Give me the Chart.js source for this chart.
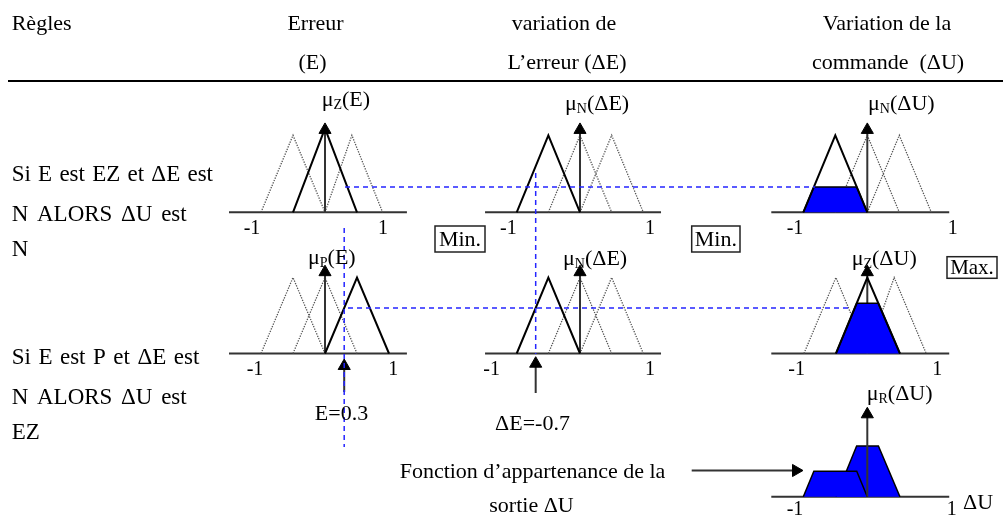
<!DOCTYPE html>
<html><head><meta charset="utf-8">
<script src="https://cdn.jsdelivr.net/npm/chart.js@4/dist/chart.umd.min.js"></script>
<style>html,body{margin:0;padding:0;background:#fff;overflow:hidden}#wrap{position:relative;width:1003px;height:518px}</style>
</head><body><div id="wrap"><canvas id="c" width="1003" height="518"></canvas></div>
<script>
// ================= DATA =================
const inputE = 0.3;
const inputDE = -0.7;
// fuzzy sets [left, peak, right, peakHeight]  order: N, Z, P
const setsE1  = [[-1,-0.5,0,1],[-0.5,0,0.5,1.09],[0,0.42,0.9,1]];
const setsE2  = [[-1,-0.5,0,1],[-0.5,0,0.5,1],[0,0.5,1,1]];
const setsDE  = [[-1,-0.5,0,1],[-0.5,0,0.5,1],[0,0.5,1,1]];
const setsDU1 = [[-1,-0.5,0,1],[-0.5,0,0.5,1],[0,0.5,1,1]];
const setsDU2 = [[-0.99,-0.49,0,1],[-0.49,0,0.51,1],[0,0.42,0.92,1]];
const activeE  = [1, 2];   // rule 1: Z, rule 2: P
const activeDE = [0, 0];   // N, N
const activeDU = [0, 1];   // N, Z
const firingLevels = [0.33, 0.6];
const clipLevels   = [0.33, 0.66];
const axisRange = [-1.5, 1.28];
const muArrowTop = 1.07;

// ================= LAYOUT =================
const W = 1003, H = 518;
const SERIF = '"Liberation Serif","Times New Roman",serif';
const colLayout = { xE:{zero:325,unit:64}, xDE:{zero:580,unit:63.3}, xDU:{zero:867.3,unit:64} };
const rowLayout = { yR1:{base:212.3,unit:77}, yR2:{base:353.5,unit:76}, yR3:{base:496.7,unit:77} };
const BLUE = '#2525ff';

const datasets = [];
function addLine(points, xID, yID, style, order) {
  datasets.push(Object.assign({
    data: points, xAxisID: xID, yAxisID: yID, showLine: true,
    pointRadius: 0, pointHoverRadius: 0, tension: 0, fill: false,
    borderCapStyle: 'butt', borderJoinStyle: 'miter', order: order
  }, style));
}
const S_AXIS   = {borderColor:'#333', borderWidth:2};
const S_DOT    = {borderColor:'#555', borderWidth:1.3, borderDash:[1.3,1.3]};
const S_SOLID  = {borderColor:'#000', borderWidth:2};
const S_TRAP   = {borderColor:'#000', borderWidth:1.5, backgroundColor:'#0000ff', fill:{value:0}};
const S_DASH   = {borderColor:BLUE, borderWidth:1.5, borderDash:[5,4]};
function arrowStyle(rot){ return {borderColor:'#333', borderWidth:2,
  pointRadius:[0,7], pointStyle:'triangle', pointRotation:rot||0,
  pointBackgroundColor:'#000', pointBorderColor:'#000', pointBorderWidth:1}; }

function triPts(s){ return [{x:s[0],y:0},{x:s[1],y:s[3]},{x:s[2],y:0}]; }
function trapPts(s,h){ return [{x:s[0],y:0},{x:s[0]+(s[1]-s[0])*h,y:h},{x:s[2]-(s[2]-s[1])*h,y:h},{x:s[2],y:0}]; }

function panel(xID, yID, sets, active, clip, arrowOrder) {
  addLine([{x:axisRange[0],y:0},{x:axisRange[1],y:0}], xID, yID, S_AXIS, 20);
  sets.forEach((s,i)=>{ if(i!==active) addLine(triPts(s), xID, yID, S_DOT, 18); });
  addLine([{x:0,y:0},{x:0,y:muArrowTop}], xID, yID, arrowStyle(0), arrowOrder);
  if (clip != null) addLine(trapPts(sets[active], clip), xID, yID, S_TRAP, 15);
  addLine(triPts(sets[active]), xID, yID, S_SOLID, 12);
}
// rule 1
panel('xE','yR1', setsE1, activeE[0], null, 16);
panel('xDE','yR1', setsDE, activeDE[0], null, 16);
panel('xDU','yR1', setsDU1, activeDU[0], clipLevels[0], 16);
// rule 2
panel('xE','yR2', setsE2, activeE[1], null, 16);
panel('xDE','yR2', setsDE, activeDE[1], null, 16);
panel('xDU','yR2', setsDU2, activeDU[1], clipLevels[1], 16);
// aggregated output
addLine([{x:axisRange[0],y:0},{x:axisRange[1],y:0}], 'xDU','yR3', S_AXIS, 20);
addLine(trapPts(setsDU2[activeDU[1]], clipLevels[1]), 'xDU','yR3', S_TRAP, 15);
addLine(trapPts(setsDU1[activeDU[0]], clipLevels[0]), 'xDU','yR3', S_TRAP, 14);
addLine([{x:0,y:0},{x:0,y:muArrowTop}], 'xDU','yR3', arrowStyle(0), 10);

// connectors (blue dashed)
addLine([{x:345,y:firingLevels[0]},{x:815,y:firingLevels[0]}], 'xPage','yR1', S_DASH, 1);
addLine([{x:348,y:firingLevels[1]},{x:852,y:firingLevels[1]}], 'xPage','yR2', S_DASH, 1);
addLine([{x:inputE,y:228},{x:inputE,y:447}], 'xE','yPage', S_DASH, 1);
addLine([{x:inputDE,y:173},{x:inputDE,y:354}], 'xDE','yPage', S_DASH, 1);
// input arrows & output arrow
addLine([{x:inputE,y:392},{x:inputE,y:366}], 'xE','yPage', arrowStyle(0), 2);
addLine([{x:inputDE,y:393},{x:inputDE,y:363.7}], 'xDE','yPage', arrowStyle(0), 2);
addLine([{x:691.7,y:470.5},{x:796,y:470.5}], 'xPage','yPage', arrowStyle(90), 2);
// header rule
addLine([{x:8,y:81},{x:1003,y:81}], 'xPage','yPage', {borderColor:'#000', borderWidth:2}, 2);

// ================= TEXT =================
// centred / left texts: [text, x, baseline, align]
const plainTexts = [
  ['Règles', 11.7, 29.5, 'left'],
  ['Erreur', 315.5, 30, 'center'],
  ['(E)', 312.5, 69, 'center'],
  ['variation de', 564, 30, 'center'],
  ['L\u2019erreur (\u0394E)', 567, 69, 'center'],
  ['Variation de la', 887, 30, 'center'],
  ['commande  (\u0394U)', 888, 69, 'center'],
  ['E=0.3', 341.5, 420, 'center'],
  ['\u0394E=-0.7', 532.5, 430, 'center'],
  ['Fonction d\u2019appartenance de la', 532.5, 478, 'center'],
  ['sortie \u0394U', 531.5, 511.5, 'center'],
  ['\u0394U', 963, 509, 'left']
];
// rule texts, justified: [text, left, right, baseline]
const ruleLines = [
  ['Si E est EZ et \u0394E est', 11.7, 213, 180.7],
  ['N ALORS \u0394U est', 11.7, 186.7, 220.7],
  ['N', 11.7, 0, 256],
  ['Si E est P et \u0394E est', 11.7, 199.3, 364.3],
  ['N ALORS \u0394U est', 11.7, 186.7, 404],
  ['EZ', 11.7, 0, 439.3]
];
const muLabels = [
  ['Z','(E)', 321.7, 106], ['N','(\u0394E)', 565, 110], ['N','(\u0394U)', 868, 110],
  ['P','(E)', 308, 263.5], ['N','(\u0394E)', 563, 265], ['Z','(\u0394U)', 851.7, 265],
  ['R','(\u0394U)', 866.7, 399.5]
];
const tickLabels = [
  ['-1',252,233.5],['1',383,233.5],['-1',508.3,233.5],['1',650,233.5],['-1',795,233.5],['1',952.7,233.5],
  ['-1',255,374.5],['1',393.3,374.5],['-1',491.7,374.5],['1',650,374.5],['-1',796.7,374.5],['1',937.3,374.5],
  ['-1',795,515],['1',951.7,515]
];
const boxes = [
  ['Min.', 435, 226, 50, 26], ['Min.', 691.7, 226, 48.3, 26], ['Max.', 947, 256.7, 50, 21.6]
];

const textPlugin = {
  id: 'texts',
  afterDatasetsDraw(chart) {
    const ctx = chart.ctx, sx = chart.scales.xPage, sy = chart.scales.yPage;
    const X = v => sx.getPixelForValue(v), Y = v => sy.getPixelForValue(v);
    ctx.save();
    ctx.fillStyle = '#000';
    ctx.textBaseline = 'alphabetic';
    ctx.font = '22px ' + SERIF;
    plainTexts.forEach(t => { ctx.textAlign = t[3]; ctx.fillText(t[0], X(t[1]), Y(t[2])); });
    ctx.textAlign = 'left';
    ctx.font = '23px ' + SERIF;
    ruleLines.forEach(t => {
      const words = t[0].split(' ');
      const y = Y(t[3]), L = X(t[1]);
      if (!t[2] || words.length < 2) { ctx.fillText(t[0], L, y); return; }
      const R = X(t[2]);
      const ws = words.map(w => ctx.measureText(w).width);
      const gap = Math.max(3, (R - L - ws.reduce((a,b)=>a+b,0)) / (words.length - 1));
      let cx = L;
      words.forEach((w,i) => { ctx.fillText(w, cx, y); cx += ws[i] + gap; });
    });
    muLabels.forEach(m => {
      let cx = X(m[2]); const y = Y(m[3]);
      ctx.font = '22px ' + SERIF; ctx.fillText('\u03bc', cx, y); cx += ctx.measureText('\u03bc').width;
      ctx.font = '14px ' + SERIF; ctx.fillText(m[0], cx, y + 3); cx += ctx.measureText(m[0]).width;
      ctx.font = '22px ' + SERIF; ctx.fillText(m[1], cx, y);
    });
    ctx.font = '20px ' + SERIF; ctx.textAlign = 'center';
    tickLabels.forEach(t => ctx.fillText(t[0], X(t[1]), Y(t[2])));
    boxes.forEach(b => {
      const x0 = X(b[1]), y0 = Y(b[2]), w = X(b[1]+b[3]) - x0, h = Y(b[2]+b[4]) - y0;
      ctx.fillStyle = '#fff'; ctx.fillRect(x0, y0, w, h);
      ctx.strokeStyle = '#222'; ctx.lineWidth = 1.5; ctx.strokeRect(x0, y0, w, h);
      ctx.fillStyle = '#000'; ctx.textBaseline = 'middle';
      ctx.font = (h > 24 ? '22px ' : '21px ') + SERIF;
      ctx.fillText(b[0], x0 + w/2, y0 + h/2 + 1);
    });
    ctx.restore();
  }
};

function xScale(l){ return {type:'linear', axis:'x', display:false, bounds:'data', min:-l.zero/l.unit, max:(W-l.zero)/l.unit}; }
function yScale(l){ return {type:'linear', axis:'y', display:false, bounds:'data', min:(l.base-H)/l.unit, max:l.base/l.unit}; }
const scales = {
  xPage: {type:'linear', axis:'x', display:false, bounds:'data', min:0, max:W},
  yPage: {type:'linear', axis:'y', display:false, bounds:'data', min:0, max:H, reverse:true}
};
Object.keys(colLayout).forEach(k => scales[k] = xScale(colLayout[k]));
Object.keys(rowLayout).forEach(k => scales[k] = yScale(rowLayout[k]));

new Chart(document.getElementById('c'), {
  type: 'scatter',
  data: { datasets },
  options: {
    responsive: false, animation: false, events: [],
    layout: { padding: 0, autoPadding: false },
    plugins: { legend: {display:false}, tooltip: {enabled:false} },
    scales
  },
  plugins: [textPlugin]
});
</script></body></html>
